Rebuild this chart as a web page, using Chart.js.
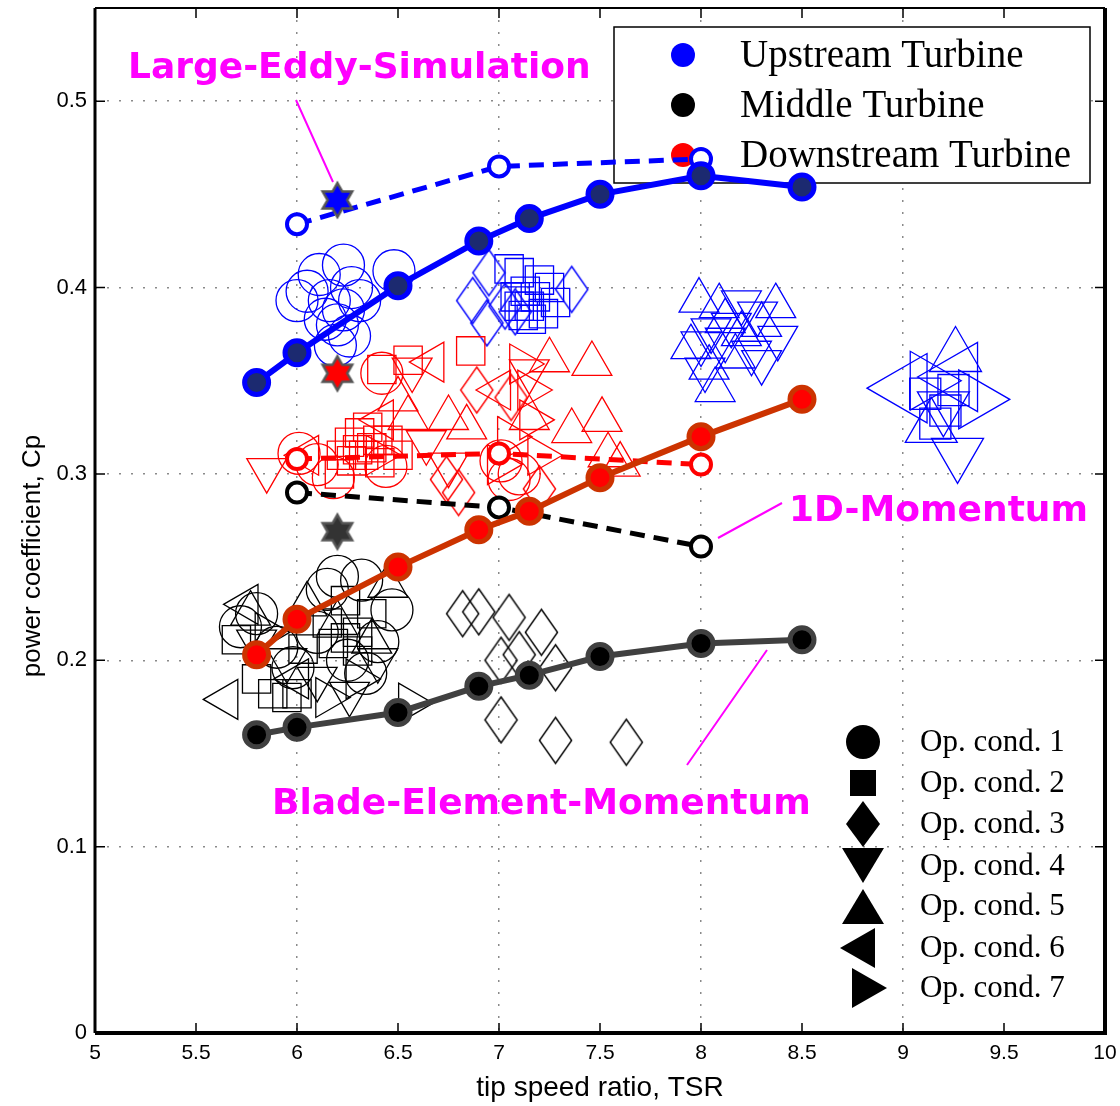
<!DOCTYPE html>
<html>
<head>
<meta charset="utf-8">
<script src="https://cdn.jsdelivr.net/npm/chart.js@4.4.0/dist/chart.umd.min.js"></script>
<style>
  html, body { margin: 0; background: #fff; }
  #wrap { width: 1120px; height: 1106px; }
</style>
</head>
<body>
<div id="wrap"><canvas id="cpChart"></canvas></div>
<script>
// axis ticks
const xTicks = [5, 5.5, 6, 6.5, 7, 7.5, 8, 8.5, 9, 9.5, 10];
const yTicks = [0, 0.1, 0.2, 0.3, 0.4, 0.5];

// Blade-Element-Momentum curves
const bemTsr = [5.8, 6.0, 6.5, 6.9, 7.15, 7.5, 8.0, 8.5];
const bemUp = [0.349, 0.365, 0.401, 0.425, 0.437, 0.450, 0.460, 0.454];
const bemMid = [0.160, 0.164, 0.172, 0.186, 0.192, 0.202, 0.209, 0.211];
const bemDown = [0.203, 0.222, 0.250, 0.270, 0.280, 0.298, 0.320, 0.340];

// 1D-Momentum curves
const momTsr = [6, 7, 8];
const momUp = [0.434, 0.465, 0.469];
const momMid = [0.290, 0.282, 0.261];
const momDown = [0.308, 0.311, 0.305];

// Large-Eddy-Simulation
const lesTsr = [6.2];
const lesUp = [0.447];
const lesMid = [0.269];
const lesDown = [0.354];

// measurements [tsr, cp], one list per operating condition
const upCond1 = [[6.0, 0.393], [6.11, 0.407], [6.23, 0.412], [6.16, 0.393], [6.14, 0.383], [6.23, 0.388], [6.31, 0.393], [6.26, 0.374], [6.19, 0.369], [6.48, 0.409], [6.27, 0.400], [6.05, 0.398], [6.2, 0.380]];
const upCond2 = [[7.10, 0.408], [7.20, 0.404], [7.15, 0.390], [7.28, 0.392], [7.16, 0.383], [7.08, 0.395], [7.13, 0.398], [7.22, 0.386], [7.05, 0.410], [7.18, 0.395], [7.12, 0.385], [7.25, 0.400], [7.10, 0.390]];
const upCond3 = [[6.95, 0.408], [6.87, 0.393], [6.94, 0.381], [7.36, 0.399], [7.03, 0.390], [7.08, 0.387]];
const upCond4 = [[8.28, 0.386], [8.38, 0.373], [8.05, 0.377], [8.12, 0.372], [8.02, 0.356], [8.20, 0.392], [8.25, 0.365], [8.15, 0.380], [8.30, 0.360], [8.00, 0.370]];
const upCond5 = [[7.99, 0.393], [8.09, 0.390], [8.37, 0.390], [7.95, 0.368], [8.17, 0.363], [8.04, 0.357], [8.12, 0.382], [8.20, 0.375], [8.07, 0.345], [8.30, 0.380]];
const upCond6 = [];
const upCond7 = [];
// upstream points around TSR 9.2 (larger markers)
const farCond2 = [[9.11, 0.343], [9.21, 0.334], [9.16, 0.327], [9.25, 0.345]];
const farCond4 = [[9.27, 0.311], [9.2, 0.336]];
const farCond5 = [[9.26, 0.363], [9.14, 0.325]];
const farCond6 = [[9.02, 0.346], [9.27, 0.352]];
const farCond7 = [[9.36, 0.340], [9.12, 0.350]];

const midCond1 = [[5.72, 0.218], [6.15, 0.238], [6.32, 0.243], [6.47, 0.227], [5.98, 0.196], [6.34, 0.193], [5.90, 0.207], [6.10, 0.215], [6.25, 0.200], [6.20, 0.245], [5.80, 0.225], [6.40, 0.210]];
const midCond2 = [[6.24, 0.232], [6.37, 0.225], [6.24, 0.212], [5.70, 0.211], [5.88, 0.182], [6.0, 0.182], [6.18, 0.209], [6.03, 0.206], [6.30, 0.215], [5.95, 0.180], [6.30, 0.205], [6.15, 0.220], [5.80, 0.190]];
const midCond3 = [[6.82, 0.225], [6.90, 0.226], [7.05, 0.223], [7.21, 0.215], [7.01, 0.200], [7.10, 0.203], [7.28, 0.196], [7.01, 0.168], [7.28, 0.157], [7.63, 0.156]];
const midCond4 = [[6.26, 0.182], [5.95, 0.200], [6.10, 0.190], [6.40, 0.200], [5.80, 0.210]];
const midCond5 = [[5.77, 0.225], [6.37, 0.210], [6.20, 0.220], [6.05, 0.230], [6.45, 0.240]];
const midCond6 = [[5.65, 0.179], [5.75, 0.230], [6.00, 0.190]];
const midCond7 = [[6.56, 0.177], [6.30, 0.190], [5.85, 0.215], [6.15, 0.180]];

const downCond1 = [[6.01, 0.311], [6.42, 0.354], [6.18, 0.298], [6.44, 0.304], [7.01, 0.307], [7.05, 0.297], [6.10, 0.305], [7.10, 0.300]];
const downCond2 = [[6.42, 0.356], [6.55, 0.361], [6.86, 0.366], [6.31, 0.322], [6.37, 0.314], [6.27, 0.307], [6.41, 0.306], [6.26, 0.317], [6.21, 0.300], [6.33, 0.310], [6.45, 0.318], [6.35, 0.325], [6.40, 0.318], [6.30, 0.313], [6.50, 0.310], [6.22, 0.310]];
const downCond3 = [[6.89, 0.345], [7.06, 0.341], [6.74, 0.297], [6.80, 0.290], [7.20, 0.292]];
const downCond4 = [[5.85, 0.302], [6.57, 0.356], [6.64, 0.317], [6.75, 0.305], [7.15, 0.355]];
const downCond5 = [[6.84, 0.325], [7.46, 0.359], [7.51, 0.329], [7.36, 0.323], [7.25, 0.361], [7.54, 0.310], [6.55, 0.330], [7.60, 0.305], [6.50, 0.340], [6.75, 0.330], [7.15, 0.330]];
const downCond6 = [[6.67, 0.360], [6.42, 0.329], [6.05, 0.310], [7.00, 0.345]];
const downCond7 = [[7.16, 0.329], [7.11, 0.359], [7.05, 0.320], [7.00, 0.305], [6.40, 0.310], [7.15, 0.345], [7.20, 0.310]];

const turbineNames = ["Upstream Turbine", "Middle Turbine", "Downstream Turbine"];
const condNames = ["Op. cond. 1", "Op. cond. 2", "Op. cond. 3", "Op. cond. 4", "Op. cond. 5", "Op. cond. 6", "Op. cond. 7"];

const BLUE = "#0000ff";
const BLACK = "#000000";
const RED = "#ff0000";
const MAGENTA = "#ff00ff";

// elongated diamond marker drawn on a small canvas
function diamondMarker(color, hh) {
  const hw = hh * 0.7;
  const c = document.createElement("canvas");
  c.width = Math.ceil(hw * 2 + 4);
  c.height = Math.ceil(hh * 2 + 4);
  const g = c.getContext("2d");
  const cx = c.width / 2, cy = c.height / 2;
  g.beginPath();
  g.moveTo(cx, cy - hh);
  g.lineTo(cx + hw, cy);
  g.lineTo(cx, cy + hh);
  g.lineTo(cx - hw, cy);
  g.closePath();
  g.strokeStyle = color;
  g.lineWidth = 1.4;
  g.stroke();
  return c;
}

// six-pointed star for the LES points
function starMarker(fill, r) {
  const c = document.createElement("canvas");
  c.width = c.height = Math.ceil(r * 2 + 6);
  const g = c.getContext("2d");
  const cx = c.width / 2, cy = c.height / 2;
  g.beginPath();
  for (let i = 0; i < 12; i++) {
    const rad = i % 2 === 0 ? r : r / Math.sqrt(3);
    const a = -Math.PI / 2 + i * Math.PI / 6;
    const px = cx + rad * Math.cos(a), py = cy + rad * Math.sin(a);
    if (i === 0) g.moveTo(px, py); else g.lineTo(px, py);
  }
  g.closePath();
  g.fillStyle = fill;
  g.fill();
  g.strokeStyle = "#555555";
  g.lineWidth = 2.5;
  g.stroke();
  return c;
}

const shapes = {
  o: { style: "circle", rot: 0 },
  s: { style: "rect", rot: 0 },
  v: { style: "triangle", rot: 180 },
  "^": { style: "triangle", rot: 0 },
  "<": { style: "triangle", rot: 270 },
  ">": { style: "triangle", rot: 90 }
};
const condShapes = ["o", "s", "d", "v", "^", "<", ">"];

function markerSet(points, color, shape, size) {
  const s = shape === "d" ? { style: diamondMarker(color, size), rot: 0 } : shapes[shape];
  return {
    data: points.map(p => ({ x: p[0], y: p[1] })),
    showLine: false,
    pointStyle: s.style,
    pointRotation: s.rot,
    pointRadius: size,
    pointBorderColor: color,
    pointBackgroundColor: "rgba(0,0,0,0)",
    pointBorderWidth: 1.3,
    order: 10
  };
}

function lineSet(xs, ys, color, fill, ring, dashed) {
  return {
    data: xs.map((x, i) => ({ x: x, y: ys[i] })),
    showLine: true,
    borderColor: color,
    borderWidth: dashed ? 5 : 6,
    borderDash: dashed ? [15, 9] : [],
    pointStyle: "circle",
    pointRadius: dashed ? 10 : 12,
    pointBackgroundColor: fill,
    pointBorderColor: ring,
    pointBorderWidth: dashed ? 4 : 5,
    order: 1
  };
}

function starSet(xs, ys, fill) {
  return {
    data: xs.map((x, i) => ({ x: x, y: ys[i] })),
    showLine: false,
    pointStyle: starMarker(fill, 17),
    pointRadius: 17,
    order: 0
  };
}

const datasets = [];
const upScatter = [upCond1, upCond2, upCond3, upCond4, upCond5, upCond6, upCond7];
const midScatter = [midCond1, midCond2, midCond3, midCond4, midCond5, midCond6, midCond7];
const downScatter = [downCond1, downCond2, downCond3, downCond4, downCond5, downCond6, downCond7];
const condSize = [21, 20, 23, 23, 23, 23, 23];

condShapes.forEach((shape, i) => {
  datasets.push(markerSet(upScatter[i], BLUE, shape, condSize[i]));
  datasets.push(markerSet(midScatter[i], BLACK, shape, condSize[i]));
  datasets.push(markerSet(downScatter[i], RED, shape, condSize[i]));
});
datasets.push(markerSet(farCond2, BLUE, "s", 22));
datasets.push(markerSet(farCond4, BLUE, "v", 30));
datasets.push(markerSet(farCond5, BLUE, "^", 30));
datasets.push(markerSet(farCond6, BLUE, "<", 40));
datasets.push(markerSet(farCond7, BLUE, ">", 34));

datasets.push(lineSet(bemTsr, bemUp, BLUE, "#1c2a70", BLUE, false));
datasets.push(lineSet(bemTsr, bemMid, "#404040", "#000000", "#404040", false));
datasets.push(lineSet(bemTsr, bemDown, "#cc3300", RED, "#cc3300", false));
datasets.push(lineSet(momTsr, momUp, BLUE, "#ffffff", BLUE, true));
datasets.push(lineSet(momTsr, momMid, BLACK, "#ffffff", BLACK, true));
datasets.push(lineSet(momTsr, momDown, RED, "#ffffff", RED, true));
datasets.push(starSet(lesTsr, lesUp, BLUE));
datasets.push(starSet(lesTsr, lesMid, "#333333"));
datasets.push(starSet(lesTsr, lesDown, RED));

// legends drawn under the data
const legendPlugin = {
  id: "legends",
  beforeDatasetsDraw(chart) {
    const ctx = chart.ctx;
    ctx.save();
    // y axis title, placed a bit below the middle like the original
    ctx.fillStyle = "#000";
    ctx.font = '26px "Liberation Sans", Arial, sans-serif';
    ctx.textAlign = "center";
    ctx.textBaseline = "middle";
    ctx.translate(33, 556);
    ctx.rotate(-Math.PI / 2);
    ctx.fillText("power coefficient, Cp", 0, 0);
    ctx.setTransform(1, 0, 0, 1, 0, 0);
    ctx.textAlign = "left";

    // turbine legend box
    ctx.fillStyle = "#fff";
    ctx.fillRect(614, 27, 476, 156);
    ctx.strokeStyle = "#000";
    ctx.lineWidth = 1.5;
    ctx.strokeRect(614, 27, 476, 156);
    const cols = [BLUE, BLACK, RED];
    ctx.font = '39px "Liberation Serif", "Times New Roman", serif';
    turbineNames.forEach((name, i) => {
      const y = 55 + i * 50;
      ctx.fillStyle = cols[i];
      ctx.beginPath();
      ctx.arc(683, y, 12, 0, Math.PI * 2);
      ctx.fill();
      ctx.fillStyle = "#000";
      ctx.fillText(name, 740, y + 2);
    });

    // operating condition legend
    const ys = [742, 783, 824, 866, 906, 948, 988];
    const mx = 863;
    ctx.font = '31px "Liberation Serif", "Times New Roman", serif';
    condNames.forEach((name, i) => {
      const y = ys[i];
      ctx.fillStyle = "#000";
      ctx.beginPath();
      const sh = condShapes[i];
      if (sh === "o") ctx.arc(mx, y, 17, 0, Math.PI * 2);
      else if (sh === "s") ctx.rect(mx - 13, y - 13, 26, 26);
      else if (sh === "d") { ctx.moveTo(mx, y - 23); ctx.lineTo(mx + 17, y); ctx.lineTo(mx, y + 23); ctx.lineTo(mx - 17, y); }
      else if (sh === "v") { ctx.moveTo(mx - 21, y - 18); ctx.lineTo(mx + 21, y - 18); ctx.lineTo(mx, y + 17); }
      else if (sh === "^") { ctx.moveTo(mx - 21, y + 18); ctx.lineTo(mx + 21, y + 18); ctx.lineTo(mx, y - 17); }
      else if (sh === "<") { ctx.moveTo(mx - 23, y); ctx.lineTo(mx + 12, y - 20); ctx.lineTo(mx + 12, y + 20); }
      else { ctx.moveTo(mx + 24, y); ctx.lineTo(mx - 11, y - 20); ctx.lineTo(mx - 11, y + 20); }
      ctx.closePath();
      ctx.fill();
      ctx.fillText(name, 920, y + 1);
    });
    ctx.restore();
  },
  afterDatasetsDraw(chart) {
    const ctx = chart.ctx;
    const a = chart.chartArea;
    const xs = chart.scales.x, ys = chart.scales.y;
    ctx.save();
    // magenta annotations
    ctx.fillStyle = MAGENTA;
    ctx.strokeStyle = MAGENTA;
    ctx.lineWidth = 2;
    ctx.font = 'bold 36px "DejaVu Sans", sans-serif';
    ctx.textBaseline = "middle";
    ctx.fillText("Large-Eddy-Simulation", 128, 69);
    ctx.fillText("1D-Momentum", 789, 512);
    ctx.fillText("Blade-Element-Momentum", 272, 805);
    ctx.beginPath();
    ctx.moveTo(296, 100); ctx.lineTo(333, 182);
    ctx.moveTo(782, 503); ctx.lineTo(718, 538);
    ctx.moveTo(687, 765); ctx.lineTo(767, 650);
    ctx.stroke();

    // axes box with inward ticks
    ctx.strokeStyle = "#000";
    ctx.lineWidth = 1.5;
    ctx.beginPath();
    xTicks.forEach(v => {
      const px = xs.getPixelForValue(v);
      ctx.moveTo(px, a.bottom); ctx.lineTo(px, a.bottom - 10);
      ctx.moveTo(px, a.top); ctx.lineTo(px, a.top + 10);
    });
    yTicks.forEach(v => {
      const py = ys.getPixelForValue(v);
      ctx.moveTo(a.left, py); ctx.lineTo(a.left + 10, py);
      ctx.moveTo(a.right, py); ctx.lineTo(a.right - 10, py);
    });
    ctx.stroke();
    ctx.lineWidth = 2;
    ctx.beginPath(); ctx.moveTo(a.left, a.top); ctx.lineTo(a.right, a.top); ctx.stroke();
    ctx.lineWidth = 3;
    ctx.beginPath(); ctx.moveTo(a.left, a.top); ctx.lineTo(a.left, a.bottom); ctx.stroke();
    ctx.lineWidth = 4;
    ctx.beginPath(); ctx.moveTo(a.left, a.bottom); ctx.lineTo(a.right, a.bottom); ctx.lineTo(a.right, a.top); ctx.stroke();
    ctx.restore();
  }
};

Chart.defaults.font.family = '"Liberation Sans", Arial, sans-serif';
Chart.defaults.color = "#000";

new Chart(document.getElementById("cpChart"), {
  type: "scatter",
  data: { datasets: datasets },
  options: {
    responsive: true,
    maintainAspectRatio: false,
    animation: false,
    events: [],
    layout: { autoPadding: false, padding: { left: 0, right: 15, top: 8, bottom: 0 } },
    plugins: { legend: { display: false }, tooltip: { enabled: false } },
    scales: {
      x: {
        type: "linear",
        min: 5,
        max: 10,
        afterBuildTicks: s => { s.ticks = xTicks.map(v => ({ value: v })); },
        afterFit: s => { s.height = 73; s.paddingLeft = 0; s.paddingRight = 0; },
        ticks: { font: { size: 21 }, padding: 8, maxRotation: 0, callback: v => String(v) },
        grid: {
          drawTicks: false,
          lineWidth: 1.5,
          color: c => (c.tick && Number.isInteger(c.tick.value) && c.tick.value > 5 && c.tick.value < 10) ? "#8a8a8a" : "rgba(0,0,0,0)"
        },
        border: { display: false, dash: [2, 10] },
        title: { display: true, text: "tip speed ratio, TSR", font: { size: 28 }, padding: { top: 0, bottom: 1 } }
      },
      y: {
        type: "linear",
        min: 0,
        max: 0.55,
        afterBuildTicks: s => { s.ticks = yTicks.map(v => ({ value: v })); },
        afterFit: s => { s.width = 95; s.paddingTop = 0; s.paddingBottom = 0; },
        ticks: { font: { size: 22 }, padding: 8, callback: v => (v === 0 ? "0" : v.toFixed(1)) },
        grid: {
          drawTicks: false,
          lineWidth: 1.5,
          color: c => (c.tick && c.tick.value > 0) ? "#8a8a8a" : "rgba(0,0,0,0)"
        },
        border: { display: false, dash: [2, 10] },
        title: { display: false }
      }
    }
  },
  plugins: [legendPlugin]
});
</script>
</body>
</html>
